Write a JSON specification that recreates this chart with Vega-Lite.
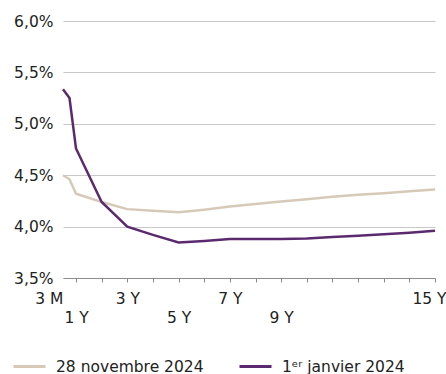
{
  "$schema": "https://vega.github.io/schema/vega-lite/v6.json",
  "width": 372,
  "height": 257,
  "autosize": {"type": "none"},
  "padding": {"left": 63, "top": 21, "right": 11, "bottom": 96},
  "config": {
    "view": {"stroke": null},
    "font": "DejaVu Sans",
    "axis": {"labelColor": "#222222", "labelFontSize": 15.5, "labelFont": "DejaVu Sans"},
    "legend": {"labelColor": "#222222", "labelFontSize": 15.5, "labelFont": "DejaVu Sans"}
  },
  "data": {
    "values": [
      {"maturite": 0.25, "courbe": "28 novembre 2024", "taux": 4.50},
      {"maturite": 0.5, "courbe": "28 novembre 2024", "taux": 4.46},
      {"maturite": 1, "courbe": "28 novembre 2024", "taux": 4.32},
      {"maturite": 2, "courbe": "28 novembre 2024", "taux": 4.24},
      {"maturite": 3, "courbe": "28 novembre 2024", "taux": 4.17},
      {"maturite": 4, "courbe": "28 novembre 2024", "taux": 4.155},
      {"maturite": 5, "courbe": "28 novembre 2024", "taux": 4.14},
      {"maturite": 6, "courbe": "28 novembre 2024", "taux": 4.165},
      {"maturite": 7, "courbe": "28 novembre 2024", "taux": 4.195},
      {"maturite": 8, "courbe": "28 novembre 2024", "taux": 4.22},
      {"maturite": 9, "courbe": "28 novembre 2024", "taux": 4.245},
      {"maturite": 10, "courbe": "28 novembre 2024", "taux": 4.265},
      {"maturite": 11, "courbe": "28 novembre 2024", "taux": 4.29},
      {"maturite": 12, "courbe": "28 novembre 2024", "taux": 4.31},
      {"maturite": 13, "courbe": "28 novembre 2024", "taux": 4.325},
      {"maturite": 14, "courbe": "28 novembre 2024", "taux": 4.345},
      {"maturite": 15, "courbe": "28 novembre 2024", "taux": 4.36},
      {"maturite": 0.25, "courbe": "1ᵉʳ janvier 2024", "taux": 5.335},
      {"maturite": 0.5, "courbe": "1ᵉʳ janvier 2024", "taux": 5.25},
      {"maturite": 1, "courbe": "1ᵉʳ janvier 2024", "taux": 4.76},
      {"maturite": 2, "courbe": "1ᵉʳ janvier 2024", "taux": 4.24},
      {"maturite": 3, "courbe": "1ᵉʳ janvier 2024", "taux": 4.00},
      {"maturite": 4, "courbe": "1ᵉʳ janvier 2024", "taux": 3.92},
      {"maturite": 5, "courbe": "1ᵉʳ janvier 2024", "taux": 3.845},
      {"maturite": 6, "courbe": "1ᵉʳ janvier 2024", "taux": 3.86},
      {"maturite": 7, "courbe": "1ᵉʳ janvier 2024", "taux": 3.88},
      {"maturite": 8, "courbe": "1ᵉʳ janvier 2024", "taux": 3.88},
      {"maturite": 9, "courbe": "1ᵉʳ janvier 2024", "taux": 3.88},
      {"maturite": 10, "courbe": "1ᵉʳ janvier 2024", "taux": 3.885},
      {"maturite": 11, "courbe": "1ᵉʳ janvier 2024", "taux": 3.90},
      {"maturite": 12, "courbe": "1ᵉʳ janvier 2024", "taux": 3.91},
      {"maturite": 13, "courbe": "1ᵉʳ janvier 2024", "taux": 3.925},
      {"maturite": 14, "courbe": "1ᵉʳ janvier 2024", "taux": 3.94},
      {"maturite": 15, "courbe": "1ᵉʳ janvier 2024", "taux": 3.96}
    ]
  },
  "mark": {"type": "line", "strokeWidth": 2.5},
  "encoding": {
    "x": {
      "field": "maturite",
      "type": "quantitative",
      "scale": {"domain": [0.25, 0.5, 1, 15], "range": [0, 6.5, 13, 372]},
      "axis": {
        "title": null,
        "values": [0.25, 1, 2, 3, 4, 5, 6, 7, 8, 9, 10, 11, 12, 13, 14, 15],
        "labelExpr": "datum.value == 0.25 ? '3 M' : (indexof([1, 3, 5, 7, 9, 15], datum.value) >= 0 ? datum.value + ' Y' : '')",
        "grid": false,
        "domainColor": "#8c8c8c",
        "domainWidth": 1,
        "tickSize": 4,
        "tickColor": {"condition": {"test": "datum.value == 0.25", "value": "transparent"}, "value": "#8c8c8c"},
        "labelPadding": {"condition": {"test": "indexof([1, 5, 9], datum.value) >= 0", "value": 28}, "value": 9},
        "labelAlign": {"condition": {"test": "datum.value == 0.25", "value": "right"}, "value": "center"},
        "labelOffset": {"condition": {"test": "datum.value == 15", "value": -6}, "value": 0},
        "labelBaseline": "top",
        "labelFlush": false,
        "labelBound": false,
        "labelOverlap": false
      }
    },
    "y": {
      "field": "taux",
      "type": "quantitative",
      "scale": {"domain": [3.5, 6.0], "nice": false, "zero": false},
      "axis": {
        "title": null,
        "values": [3.5, 4.0, 4.5, 5.0, 5.5, 6.0],
        "labelExpr": "replace(format(datum.value, '.1f'), '.', ',') + '%'",
        "domain": false,
        "ticks": false,
        "labelPadding": 10,
        "gridColor": "#c8c8c8",
        "gridWidth": 1
      }
    },
    "color": {
      "field": "courbe",
      "type": "nominal",
      "scale": {"domain": ["28 novembre 2024", "1ᵉʳ janvier 2024"], "range": ["#d6c9b8", "#5b2a6e"]},
      "legend": {
        "title": null,
        "orient": "none",
        "legendX": -51,
        "legendY": 328,
        "direction": "horizontal",
        "symbolType": "stroke",
        "symbolSize": 1024,
        "symbolStrokeWidth": 3,
        "labelOffset": 9,
        "columnPadding": 29,
        "padding": 0
      }
    }
  }
}
